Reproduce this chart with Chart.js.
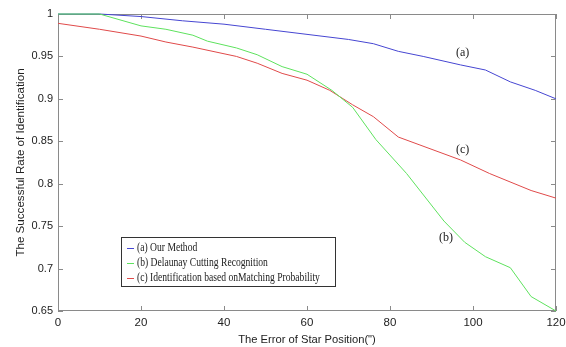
<!DOCTYPE html>
<html>
<head>
<meta charset="utf-8">
<script src="https://cdn.jsdelivr.net/npm/chart.js@4/dist/chart.umd.min.js"></script>
<style>
  html, body { margin: 0; padding: 0; background: #fff; }
  #wrap { width: 566px; height: 347px; }
</style>
</head>
<body>
<div id="wrap"><canvas id="graph"></canvas></div>
<script>
// Données
const xA = [0, 10, 20, 30, 40, 50, 60, 70, 76, 82, 88, 97, 103, 109, 115, 120];
const yA = [1, 1, 0.997, 0.992, 0.988, 0.982, 0.976, 0.970, 0.965, 0.956, 0.950, 0.940, 0.934, 0.920, 0.910, 0.900];

const xB = [0, 10, 20, 26, 32.5, 36, 43, 48, 54, 60, 66, 71, 76.6, 84, 93, 98, 103, 109, 114, 120];
const yB = [1, 1, 0.986, 0.982, 0.975, 0.968, 0.960, 0.952, 0.938, 0.929, 0.910, 0.890, 0.852, 0.812, 0.756, 0.731, 0.714, 0.701, 0.667, 0.650];

const xC = [0, 10, 20, 26, 32.5, 43, 48, 54, 60, 65.5, 71, 76, 82, 87, 97, 104, 114, 120];
const yC = [0.989, 0.982, 0.974, 0.967, 0.961, 0.950, 0.942, 0.930, 0.922, 0.910, 0.893, 0.879, 0.855, 0.846, 0.828, 0.812, 0.792, 0.783];

const seriesNames = ['(a) Our Method', '(b) Delaunay Cutting Recognition', '(c) Identification based onMatching Probability'];
const seriesColors = ['#4646d2', '#5ee25e', '#e04a4a'];
const curveTags = [{ text: '(a)', x: 97.5, y: 0.954 }, { text: '(b)', x: 93.5, y: 0.736 }, { text: '(c)', x: 97.5, y: 0.840 }];

const xTicks = [0, 20, 40, 60, 80, 100, 120];
const yTicks = [0.65, 0.7, 0.75, 0.8, 0.85, 0.9, 0.95, 1];

const toPoints = (xs, ys) => xs.map((x, i) => ({ x: x, y: ys[i] }));
const sansFont = '"Liberation Sans", Arial, sans-serif';

// Cadre et graduations vers l'intérieur (style MATLAB)
const framePlugin = {
  id: 'frame',
  beforeDatasetsDraw(chart) {
    const { ctx, chartArea: a, scales } = chart;
    ctx.save();
    ctx.strokeStyle = '#8a8a8a';
    ctx.lineWidth = 1;
    ctx.strokeRect(a.left + 0.5, a.top + 0.5, a.right - a.left - 1, a.bottom - a.top - 1);
    ctx.beginPath();
    xTicks.forEach(v => {
      const px = Math.round(scales.x.getPixelForValue(v)) + 0.5;
      ctx.moveTo(px, a.bottom); ctx.lineTo(px, a.bottom - 5);
      ctx.moveTo(px, a.top); ctx.lineTo(px, a.top + 5);
    });
    yTicks.forEach(v => {
      const py = Math.round(scales.y.getPixelForValue(v)) + 0.5;
      ctx.moveTo(a.left, py); ctx.lineTo(a.left + 5, py);
      ctx.moveTo(a.right, py); ctx.lineTo(a.right - 5, py);
    });
    ctx.stroke();
    ctx.restore();
  },
  afterDatasetsDraw(chart) {
    const { ctx, scales } = chart;
    ctx.save();
    // étiquettes des courbes
    ctx.fillStyle = '#222';
    ctx.font = '12px "Liberation Serif", serif';
    ctx.textAlign = 'center';
    ctx.textBaseline = 'middle';
    curveTags.forEach(t => {
      ctx.fillText(t.text, scales.x.getPixelForValue(t.x), scales.y.getPixelForValue(t.y));
    });

    // légende encadrée
    const lx = 121, ly = 237, lw = 214, lh = 49;
    ctx.fillStyle = '#fff';
    ctx.fillRect(lx, ly, lw, lh);
    ctx.strokeStyle = '#333';
    ctx.strokeRect(lx + 0.5, ly + 0.5, lw, lh);
    ctx.textAlign = 'left';
    seriesNames.forEach((name, i) => {
      const yy = ly + 11 + i * 15;
      ctx.strokeStyle = seriesColors[i];
      ctx.beginPath();
      ctx.moveTo(lx + 6, yy + 0.5); ctx.lineTo(lx + 13, yy + 0.5);
      ctx.stroke();
      ctx.save();
      ctx.translate(lx + 16, yy);
      ctx.scale(0.8, 1);
      ctx.font = '12px "Liberation Serif", serif';
      ctx.fillStyle = '#222';
      ctx.fillText(name, 0, 0);
      ctx.restore();
    });
    ctx.restore();
  }
};

const ctx = document.getElementById('graph').getContext('2d');
new Chart(ctx, {
  type: 'line',
  data: {
    datasets: [
      { label: seriesNames[0], data: toPoints(xA, yA), borderColor: seriesColors[0], order: 1 },
      { label: seriesNames[1], data: toPoints(xB, yB), borderColor: seriesColors[1], order: 0 },
      { label: seriesNames[2], data: toPoints(xC, yC), borderColor: seriesColors[2], order: 2 }
    ]
  },
  options: {
    responsive: true,
    maintainAspectRatio: false,
    animation: false,
    layout: { padding: { left: 0, right: 10, top: 14, bottom: 0 } },
    elements: {
      point: { radius: 0 },
      line: { borderWidth: 1, tension: 0 }
    },
    datasets: { line: { clip: false } },
    plugins: {
      legend: { display: false },
      tooltip: { enabled: false }
    },
    scales: {
      x: {
        type: 'linear',
        min: 0,
        max: 120,
        grid: { display: false, drawTicks: false },
        border: { display: false },
        afterBuildTicks: s => { s.ticks = xTicks.map(v => ({ value: v })); },
        afterFit: s => { s.height = 36; s.paddingLeft = 0; s.paddingRight = 0; },
        ticks: {
          padding: 5,
          color: '#222',
          font: { family: sansFont, size: 11.5 }
        },
        title: {
          display: true,
          text: 'The Error of Star Position(")',
          color: '#222',
          padding: { top: 3, bottom: 0 },
          font: { family: sansFont, size: 11.2 }
        }
      },
      y: {
        min: 0.65,
        max: 1,
        grid: { display: false, drawTicks: false },
        border: { display: false },
        afterBuildTicks: s => { s.ticks = yTicks.map(v => ({ value: v })); },
        afterFit: s => { s.width = 58; s.paddingTop = 0; s.paddingBottom = 0; },
        ticks: {
          padding: 5,
          color: '#222',
          font: { family: sansFont, size: 11 },
          callback: v => String(+v.toFixed(2))
        },
        title: {
          display: true,
          text: 'The Successful Rate of Identification',
          color: '#222',
          padding: { top: 14, bottom: 0 },
          font: { family: sansFont, size: 11.6 }
        }
      }
    }
  },
  plugins: [framePlugin]
});
</script>
</body>
</html>
